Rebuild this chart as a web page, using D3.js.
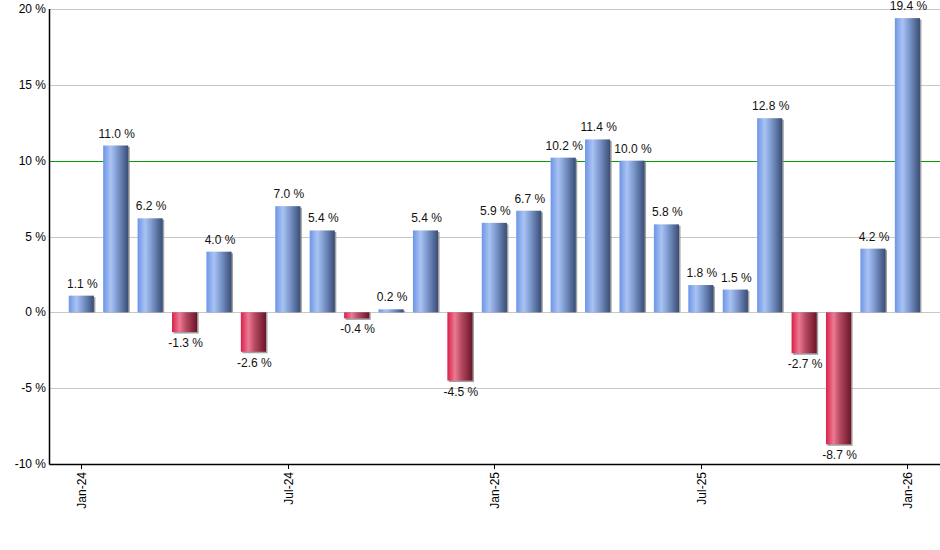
<!DOCTYPE html>
<html><head><meta charset="utf-8">
<script src="https://cdn.jsdelivr.net/npm/d3@7"></script>
<style>body{margin:0;background:#fff}svg text{font-family:"Liberation Sans",Arial,sans-serif}</style>
</head><body><svg id="c" width="940" height="550"></svg>
<script>
const months = ["Jan-24","Feb-24","Mar-24","Apr-24","May-24","Jun-24","Jul-24","Aug-24","Sep-24","Oct-24","Nov-24","Dec-24","Jan-25","Feb-25","Mar-25","Apr-25","May-25","Jun-25","Jul-25","Aug-25","Sep-25","Oct-25","Nov-25","Dec-25","Jan-26"];
const values = [1.1,11.0,6.2,-1.3,4.0,-2.6,7.0,5.4,-0.4,0.2,5.4,-4.5,5.9,6.7,10.2,11.4,10.0,5.8,1.8,1.5,12.8,-2.7,-8.7,4.2,19.4];
const yTicks = [-10,-5,0,5,10,15,20];
const xTickLabels = ["Jan-24","Jul-24","Jan-25","Jul-25","Jan-26"];
const refLine = 10;

(function(){
const svg = d3.select("#c");
const pL = 49.5, pR = 940, pT = 9, pB = 464;
const x = d3.scaleBand().domain(months).range([64.1, 64.1 + 25*34.42]).paddingInner(0.27).paddingOuter(0.135);
const y = d3.scaleLinear().domain([-10,20]).range([pB, pT]);

const defs = svg.append("defs");
function grad(id, stops){
  const g = defs.append("linearGradient").attr("id",id).attr("x1","0%").attr("x2","100%").attr("y1","0").attr("y2","0");
  stops.forEach(s=>g.append("stop").attr("offset",s[0]).attr("stop-color",s[1]));
}
grad("gb",[["0%","#6d95e6"],["30%","#a9c3f3"],["55%","#7f9bd0"],["100%","#394d75"]]);
grad("gr",[["0%","#d9204a"],["30%","#ec7a93"],["55%","#b84a63"],["100%","#6a1428"]]);

svg.append("g").selectAll("line").data(yTicks.filter(d=>d!==refLine)).join("line")
  .attr("x1",pL).attr("x2",pR).attr("y1",d=>Math.round(y(d))+0.5).attr("y2",d=>Math.round(y(d))+0.5)
  .attr("stroke","#c8c8c8").attr("stroke-width",1);

svg.append("line").attr("x1",pL).attr("x2",pR).attr("y1",Math.round(y(refLine))+0.5).attr("y2",Math.round(y(refLine))+0.5)
  .attr("stroke","#00a000").attr("stroke-width",1);

svg.append("g").selectAll("text").data(yTicks).join("text")
  .attr("x",46).attr("y",d=>y(d)+4).attr("text-anchor","end").attr("font-size",12).attr("fill","#000")
  .text(d=>d+" %");

const bw = x.bandwidth();
const bars = svg.append("g");
months.forEach((m,i)=>{
  const v = values[i];
  const x0 = x(m);
  const y0 = v>=0 ? y(v) : y(0);
  const h = Math.abs(y(v)-y(0));
  bars.append("rect").attr("x",x0+1.5).attr("y",v>=0? y0+1.5 : y0).attr("width",bw).attr("height",v>=0? Math.max(0,h-1.5) : h+1.5).attr("fill","#8a8a8a").attr("opacity",0.8);
  bars.append("rect").attr("x",x0).attr("y",y0).attr("width",bw).attr("height",h).attr("fill",v>=0?"url(#gb)":"url(#gr)");
});

svg.append("g").selectAll("text").data(values).join("text")
  .attr("x",(d,i)=>x(months[i])+bw/2+1).attr("y",d=>d>=0? y(d)-8 : y(d)+15)
  .attr("text-anchor","middle").attr("font-size",12).attr("fill","#111")
  .text(d=>d.toFixed(1)+" %");

svg.append("line").attr("x1",pL).attr("x2",pL).attr("y1",pT).attr("y2",pB+0.5).attr("stroke","#000").attr("stroke-width",1.5);
svg.append("line").attr("x1",pL).attr("x2",pR).attr("y1",pB+0.5).attr("y2",pB+0.5).attr("stroke","#000").attr("stroke-width",1.5);

const xt = svg.append("g").selectAll("g").data(xTickLabels).join("g")
  .attr("transform",d=>`translate(${Math.round(x(d)+bw/2)+0.5},${pB})`);
xt.append("line").attr("y1",0).attr("y2",5).attr("stroke","#000").attr("stroke-width",1);
xt.append("text").attr("transform","rotate(-90)").attr("x",-8).attr("y",4).attr("text-anchor","end").attr("font-size",12).attr("fill","#000").text(d=>d);
})();
</script></body></html>
